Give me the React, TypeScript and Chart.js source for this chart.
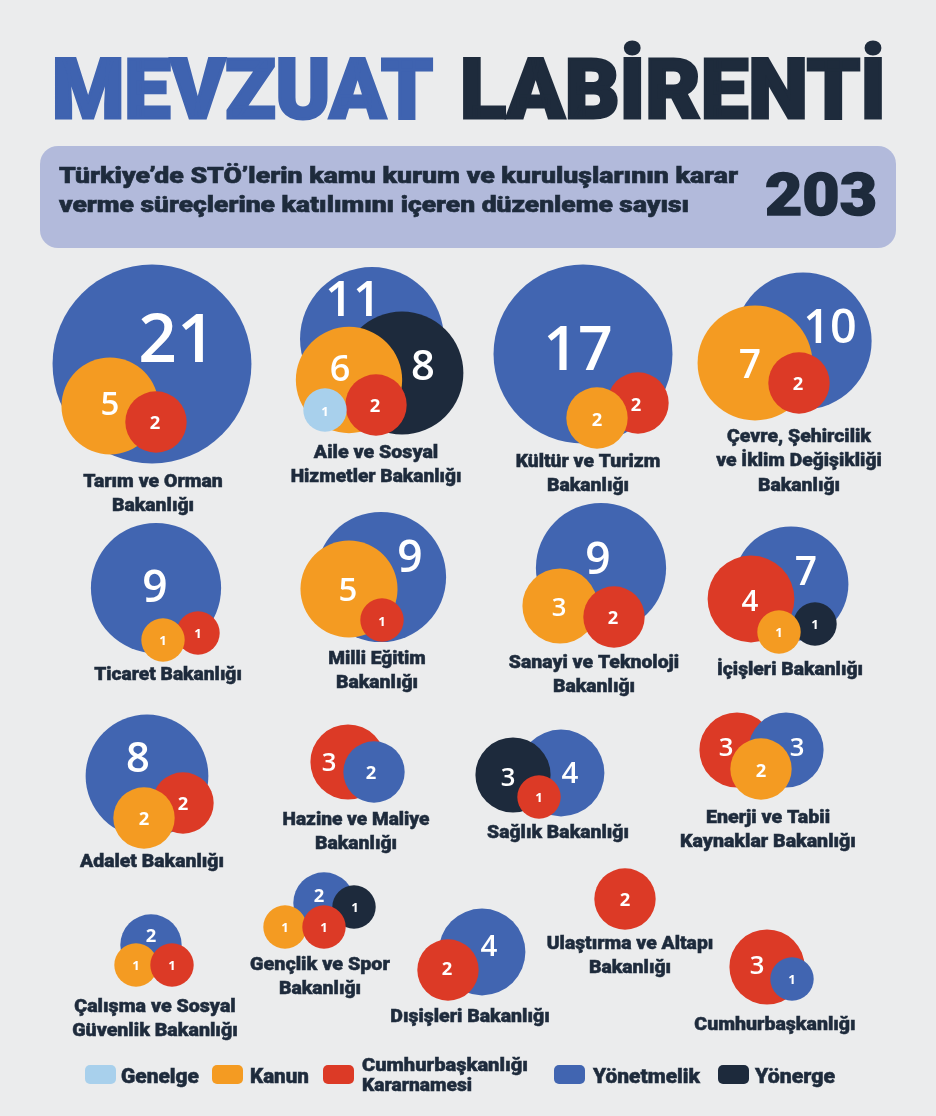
import React, { useEffect, useLayoutEffect, useRef } from "react";
import { Chart, registerables } from "chart.js";

Chart.register(...registerables);

// ---------------- DATA ----------------
const ministries = [
  "Tarım ve Orman Bakanlığı",
  "Aile ve Sosyal Hizmetler Bakanlığı",
  "Kültür ve Turizm Bakanlığı",
  "Çevre, Şehircilik ve İklim Değişikliği Bakanlığı",
  "Ticaret Bakanlığı",
  "Milli Eğitim Bakanlığı",
  "Sanayi ve Teknoloji Bakanlığı",
  "İçişleri Bakanlığı",
  "Adalet Bakanlığı",
  "Hazine ve Maliye Bakanlığı",
  "Sağlık Bakanlığı",
  "Enerji ve Tabii Kaynaklar Bakanlığı",
  "Çalışma ve Sosyal Güvenlik Bakanlığı",
  "Gençlik ve Spor Bakanlığı",
  "Dışişleri Bakanlığı",
  "Ulaştırma ve Altapı Bakanlığı",
  "Cumhurbaşkanlığı",
];

const genelge = [0, 1, 0, 0, 0, 0, 0, 0, 0, 0, 0, 0, 0, 0, 0, 0, 0];
const kanun = [5, 6, 2, 7, 1, 5, 3, 1, 2, 0, 0, 2, 1, 1, 0, 0, 0];
const cbKararnamesi = [2, 2, 2, 2, 1, 1, 2, 4, 2, 3, 1, 3, 1, 1, 2, 2, 3];
const yonetmelik = [21, 11, 17, 10, 9, 9, 9, 7, 8, 2, 4, 3, 2, 2, 4, 0, 1];
const yonerge = [0, 8, 0, 0, 0, 0, 0, 1, 0, 0, 3, 0, 0, 1, 0, 0, 0];

const typeNames = ["Genelge", "Kanun", "Cumhurbaşkanlığı Kararnamesi", "Yönetmelik", "Yönerge"];
const seriesByType = [genelge, kanun, cbKararnamesi, yonetmelik, yonerge];

// ---------------- STYLE / LAYOUT ----------------
const typeColors = ["#a8d0ec", "#f49b22", "#dc3a26", "#4165b1", "#1d2a3c"];
const BG = "#ebeced";
const NAVY = "#1e2b3c";
const RADIUS_K = 21.7; // px per sqrt(unit)
const LABEL_LINE = 24.5;

// type index: 0 Genelge, 1 Kanun, 2 CB Kararnamesi, 3 Yönetmelik, 4 Yönerge
// pos[type] = [bubble x, bubble y, number x, number y]
type Group = { x: number; y: number; words: number[]; order: number[]; pos: Record<number, number[]> };
const layout: Group[] = [
  { x: 153, y: 480, words: [3, 1], order: [3, 1, 2], pos: { 3: [152, 364, 177, 337], 1: [110, 406, 110, 403], 2: [156, 422, 155, 422] } },
  { x: 376, y: 451, words: [3, 2], order: [3, 4, 1, 2, 0], pos: { 3: [372, 339, 353, 298], 4: [402, 373, 423, 365], 1: [349, 380, 340, 368], 2: [376, 405, 375, 405], 0: [325, 410, 325, 411] } },
  { x: 588, y: 460, words: [3, 1], order: [3, 2, 1], pos: { 3: [583, 354, 578, 348], 2: [638, 403, 636, 404], 1: [597, 418, 597, 419] } },
  { x: 799, y: 435, words: [2, 3, 1], order: [3, 1, 2], pos: { 3: [803, 341, 830, 325], 1: [755, 363, 750, 363], 2: [799, 383, 798, 383] } },
  { x: 168, y: 673, words: [2], order: [3, 2, 1], pos: { 3: [156, 588, 155, 585], 2: [198, 633, 198, 633], 1: [163, 640, 163, 640] } },
  { x: 377, y: 657, words: [2, 1], order: [3, 1, 2], pos: { 3: [381, 577, 410, 555], 1: [349, 589, 348, 589], 2: [382, 620, 382, 621] } },
  { x: 594, y: 661, words: [3, 1], order: [3, 1, 2], pos: { 3: [601, 568, 598, 557], 1: [560, 606, 559, 607], 2: [614, 617, 613, 617] } },
  { x: 790, y: 668, words: [2], order: [3, 2, 4, 1], pos: { 3: [791, 584, 806, 570], 2: [751, 599, 750, 600], 4: [815, 624, 815, 624], 1: [779, 632, 779, 632] } },
  { x: 152, y: 860, words: [2], order: [3, 2, 1], pos: { 3: [147, 776, 138, 757], 2: [183, 803, 183, 803], 1: [144, 818, 144, 818] } },
  { x: 356, y: 818, words: [3, 1], order: [2, 3], pos: { 2: [348, 762, 329, 762], 3: [374, 772, 371, 772] } },
  { x: 558, y: 831, words: [2], order: [3, 4, 2], pos: { 3: [561, 773, 570, 772], 4: [513, 775, 508, 777], 2: [539, 797, 539, 797] } },
  { x: 768, y: 816, words: [3, 2], order: [2, 3, 1], pos: { 2: [737, 750, 726, 747], 3: [786, 750, 797, 747], 1: [761, 769, 761, 770] } },
  { x: 155, y: 1005, words: [3, 2], order: [3, 1, 2], pos: { 3: [151, 945, 151, 935], 1: [136, 965, 136, 965], 2: [172, 965, 172, 965] } },
  { x: 320, y: 963, words: [3, 1], order: [3, 4, 1, 2], pos: { 3: [324, 903, 319, 895], 4: [354, 907, 355, 907], 1: [285, 927, 285, 927], 2: [324, 927, 324, 927] } },
  { x: 470, y: 1015, words: [2], order: [3, 2], pos: { 3: [482, 952, 489, 945], 2: [448, 970, 447, 968] } },
  { x: 630, y: 942, words: [3, 1], order: [2], pos: { 2: [625, 899, 625, 899] } },
  { x: 775, y: 1023, words: [1], order: [2, 3], pos: { 2: [767, 967, 757, 965], 3: [792, 979, 792, 979] } },
];

type Pt = { x: number; y: number; r: number; v: number; t: number; nx: number; ny: number };
const points: Pt[] = [];
layout.forEach((g, i) => {
  g.order.forEach((t) => {
    const v = seriesByType[t][i];
    const p = g.pos[t];
    if (v > 0 && p) points.push({ x: p[0], y: p[1], r: RADIUS_K * Math.sqrt(v), v, t, nx: p[2], ny: p[3] });
  });
});

const total = seriesByType.reduce((s, arr) => s + arr.reduce((a, b) => a + b, 0), 0);

function splitLines(name: string, words: number[]): string[] {
  const w = name.split(" ");
  const out: string[] = [];
  let k = 0;
  words.forEach((n) => {
    out.push(w.slice(k, k + n).join(" "));
    k += n;
  });
  return out;
}

const LABEL_REF_FONT = `bold 18.5px "Liberation Sans"`;
const LABEL_FONT = `900 18.5px Roboto`;

const labelPlugin = {
  id: "bubbleLabels",
  afterDatasetsDraw(chart: any) {
    const ctx = chart.ctx as CanvasRenderingContext2D;
    const xs = chart.scales.x;
    const ys = chart.scales.y;
    ctx.save();
    ctx.textAlign = "center";
    ctx.textBaseline = "alphabetic";
    ctx.fillStyle = "#ffffff";
    points.forEach((p) => {
      const small = p.v <= 2;
      const size = (small ? 0.6 : 0.68) * p.r;
      ctx.font = `${small ? 700 : 600} ${size.toFixed(1)}px "Open Sans"`;
      const txt = String(p.v);
      const m = ctx.measureText(txt);
      const x = xs.getPixelForValue(p.nx);
      const y = ys.getPixelForValue(p.ny);
      ctx.fillText(txt, x, y + (m.actualBoundingBoxAscent - m.actualBoundingBoxDescent) / 2);
    });
    ctx.fillStyle = NAVY;
    ctx.strokeStyle = NAVY;
    ctx.lineWidth = 0.5;
    ctx.font = LABEL_FONT;
    const cap = ctx.measureText("H").actualBoundingBoxAscent;
    layout.forEach((g, i) => {
      splitLines(ministries[i], g.words).forEach((line, j) => {
        ctx.font = LABEL_REF_FONT;
        const wRef = ctx.measureText(line).width;
        ctx.font = LABEL_FONT;
        const w = ctx.measureText(line).width;
        ctx.save();
        ctx.translate(xs.getPixelForValue(g.x), ys.getPixelForValue(g.y + j * LABEL_LINE) + cap / 2);
        ctx.scale(wRef / w, 1);
        ctx.fillText(line, 0, 0);
        ctx.strokeText(line, 0, 0);
        ctx.restore();
      });
    });
    ctx.restore();
  },
};

function FitText(props: {
  text: string;
  left: number;
  top: number;
  width: number;
  size: number;
  weight?: number;
  family?: string;
  color?: string;
  stroke?: number;
}) {
  const ref = useRef<HTMLDivElement>(null);
  useLayoutEffect(() => {
    const el = ref.current;
    if (!el) return;
    el.style.transform = "none";
    const w = el.getBoundingClientRect().width;
    if (w > 0) el.style.transform = `scaleX(${props.width / w})`;
  });
  const color = props.color || NAVY;
  return (
    <div
      ref={ref}
      style={{
        position: "absolute",
        left: props.left,
        top: props.top,
        whiteSpace: "nowrap",
        transformOrigin: "0 0",
        fontFamily: props.family || "Roboto, sans-serif",
        fontWeight: props.weight || 900,
        fontSize: props.size,
        lineHeight: `${props.size}px`,
        color,
        WebkitTextStroke: props.stroke ? `${props.stroke}px ${color}` : undefined,
      }}
    >
      {props.text}
    </div>
  );
}

const legendSwatchX = [85, 212, 323, 554, 718];
const legendTextX = [121, 250, 362, 593, 755];
const legendTextW = [78, 59, 166, 107, 80];

export default function App() {
  const canvasRef = useRef<HTMLCanvasElement>(null);

  useLayoutEffect(() => {
    document.body.style.margin = "0";
    document.body.style.background = BG;
    document.body.style.overflow = "hidden";
  }, []);

  useEffect(() => {
    if (!canvasRef.current) return;
    const chart = new Chart(canvasRef.current, {
      type: "bubble",
      data: {
        datasets: [
          {
            label: "Düzenlemeler",
            data: points as any,
            backgroundColor: points.map((p) => typeColors[p.t]),
            borderWidth: 0,
            hoverBorderWidth: 0,
            hoverRadius: 0,
            clip: false as any,
          },
        ],
      },
      options: {
        responsive: false,
        maintainAspectRatio: false,
        devicePixelRatio: 1,
        animation: false,
        events: [],
        layout: { padding: 0, autoPadding: false },
        scales: {
          x: { type: "linear", min: 0, max: 936, display: false },
          y: { type: "linear", min: 0, max: 1116, reverse: true, display: false },
        },
        plugins: { legend: { display: false }, tooltip: { enabled: false } },
      },
      plugins: [labelPlugin],
    });
    return () => chart.destroy();
  }, []);

  return (
    <div style={{ position: "relative", width: 936, height: 1116, background: BG, overflow: "hidden" }}>
      <canvas ref={canvasRef} width={936} height={1116} style={{ position: "absolute", left: 0, top: 0 }} />
      <FitText text="MEVZUAT" left={52} top={48} width={381} size={83} color="#3f63b0" stroke={3} />
      <FitText text="LABİRENTİ" left={460} top={48} width={426} size={83} color={NAVY} stroke={3} />
      <div
        style={{
          position: "absolute",
          left: 40,
          top: 146,
          width: 856,
          height: 102,
          borderRadius: 18,
          background: "#b2badb",
        }}
      />
      <FitText text="Türkiye’de STÖ’lerin kamu kurum ve kuruluşlarının karar" left={59} top={165} width={679} size={22} stroke={0.6} />
      <FitText text="verme süreçlerine katılımını içeren düzenleme sayısı" left={59} top={194} width={630} size={22} stroke={0.6} />
      <FitText text={String(total)} left={765} top={165} width={112} size={59} stroke={1.5} />
      {typeNames.map((name, i) => (
        <React.Fragment key={name}>
          <div
            style={{
              position: "absolute",
              left: legendSwatchX[i],
              top: 1065,
              width: 31,
              height: 19,
              borderRadius: 5,
              background: typeColors[i],
            }}
          />
          {i === 2 ? (
            <>
              <FitText text="Cumhurbaşkanlığı" left={legendTextX[i]} top={1055} width={166} size={19} stroke={0.5} />
              <FitText text="Kararnamesi" left={legendTextX[i]} top={1075} width={110} size={19} stroke={0.5} />
            </>
          ) : (
            <FitText text={name} left={legendTextX[i]} top={1066} width={legendTextW[i]} size={20} stroke={0.5} />
          )}
        </React.Fragment>
      ))}
    </div>
  );
}
